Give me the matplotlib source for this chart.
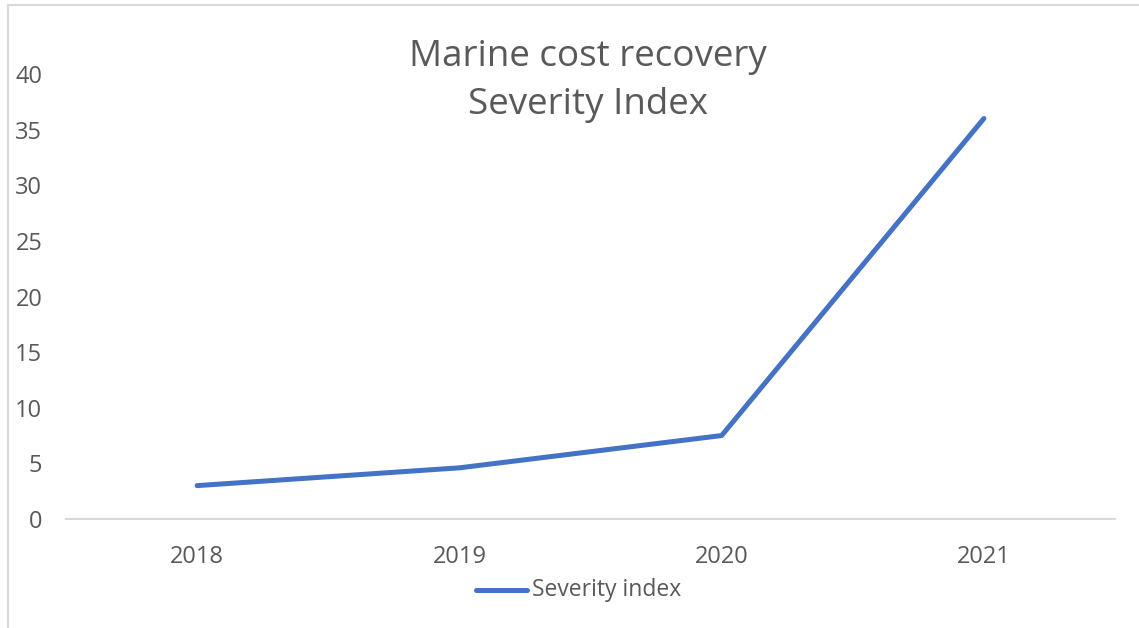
import matplotlib.pyplot as plt
from matplotlib.lines import Line2D

years = ["2018", "2019", "2020", "2021"]
severity = [3.0, 4.6, 7.5, 36.0]
y_ticks = [0, 5, 10, 15, 20, 25, 30, 35, 40]

W, H = 1139, 628
plt.rcParams['font.family'] = ['Open Sans', 'DejaVu Sans']

fig = plt.figure(figsize=(W / 100, H / 100), dpi=100)
ax = fig.add_axes([66 / W, (H - 519) / H, (1115 - 66) / W, (519 - 74) / H])

x = list(range(len(years)))
ax.plot(x, severity, color='#4472C4', lw=3.6, solid_capstyle='round',
        solid_joinstyle='round', label='Severity index')

ax.set_xlim(-0.5, len(years) - 0.5)
ax.set_ylim(0, 40)
ax.set_xticks(x)
ax.set_xticklabels(years)
ax.set_yticks(y_ticks)

for s in ['top', 'right', 'left']:
    ax.spines[s].set_visible(False)
ax.spines['bottom'].set_color('#d9d9d9')
ax.spines['bottom'].set_linewidth(1.5)
ax.tick_params(axis='both', length=0, labelsize=17, colors='#595959')
ax.tick_params(axis='x', pad=19)
ax.tick_params(axis='y', pad=17)

fig.text(588 / W, 1 - 81 / H, "Marine cost recovery\nSeverity Index",
         ha='center', va='center', fontsize=26.5, color='#595959',
         linespacing=1.42)

# legend drawn by hand in figure coords
fig.add_artist(Line2D([476 / W, 527 / W], [1 - 590 / H, 1 - 590 / H],
                      color='#4472C4', lw=3.6, solid_capstyle='round'))
fig.text(532 / W, 1 - 590 / H, "Severity index", ha='left', va='center',
         fontsize=16.5, color='#595959')

# chart border (top and left visible)
fig.add_artist(Line2D([8 / W, 1], [1 - 5 / H, 1 - 5 / H], color='#d9d9d9', lw=1.5))
fig.add_artist(Line2D([8 / W, 8 / W], [0, 1 - 5 / H], color='#d9d9d9', lw=1.5))

fig.savefig('out.png', dpi=100)
